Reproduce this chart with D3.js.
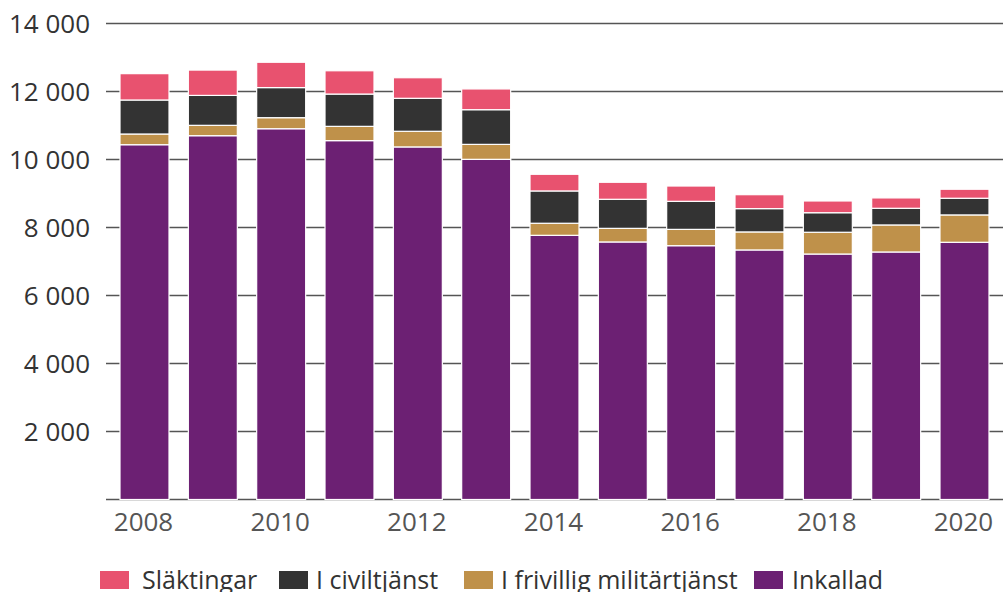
<!DOCTYPE html>
<html><head><meta charset="utf-8">
<script src="https://cdn.jsdelivr.net/npm/d3@7"></script>
<style>
html,body{margin:0;padding:0;background:#fff;}
svg{display:block;font-family:"Open Sans",sans-serif;}
</style></head><body>
<svg id="c" width="1003" height="592"></svg>
<script>
const years = [2008,2009,2010,2011,2012,2013,2014,2015,2016,2017,2018,2019,2020];
const inkallad  = [10435,10700,10905,10555,10370,10005,7770,7575,7465,7340,7220,7280,7565];
const frivillig = [315,305,325,420,460,440,355,400,480,530,640,795,805];
const civil     = [1000,880,885,950,970,1020,950,855,825,685,575,490,490];
const slakt     = [775,745,745,685,605,610,490,500,450,410,345,305,265];
const seriesNames = ["Inkallad","I frivillig militärtjänst","I civiltjänst","Släktingar"];
const legendOrder = ["Släktingar","I civiltjänst","I frivillig militärtjänst","Inkallad"];
const colors = {"Inkallad":"#6c2073","I frivillig militärtjänst":"#bf914a","I civiltjänst":"#333333","Släktingar":"#e8526f"};
const yTicks = [0,2000,4000,6000,8000,10000,12000,14000];
const xTickYears = [2008,2010,2012,2014,2016,2018,2020];

const rows = years.map((y,i)=>({year:y,"Inkallad":inkallad[i],"I frivillig militärtjänst":frivillig[i],"I civiltjänst":civil[i],"Släktingar":slakt[i]}));
const svg = d3.select("#c");
const x = d3.scaleBand().domain(years).range([106,1003]).paddingInner(0.283).paddingOuter(0.205);
const y = d3.scaleLinear().domain([0,14000]).range([499.5,23.5]);
const fmt = v => d3.format(",")(v).replace(/,/g,"\u00a0");

// grid
svg.append("g").selectAll("line").data(yTicks).join("line")
  .attr("x1",106).attr("x2",1003)
  .attr("y1",d=>y(d)).attr("y2",d=>y(d))
  .attr("stroke","#555").attr("stroke-width",1.4);
svg.append("g").selectAll("text").data(yTicks.filter(d=>d>0)).join("text")
  .attr("x",90).attr("y",d=>y(d)).attr("dy","0.35em")
  .attr("text-anchor","end").attr("font-size",26).attr("fill","#333")
  .text(fmt);

const stack = d3.stack().keys(seriesNames)(rows);
svg.append("g").selectAll("g").data(stack).join("g")
  .attr("fill",d=>colors[d.key])
  .selectAll("rect").data(d=>d).join("rect")
  .attr("x",d=>x(d.data.year)).attr("width",x.bandwidth())
  .attr("y",d=>y(d[1])).attr("height",d=>y(d[0])-y(d[1]))
  .attr("stroke","#fff").attr("stroke-width",1.2);

svg.append("g").selectAll("text").data(xTickYears).join("text")
  .attr("x",d=>x(d)+x.bandwidth()/2 - 1).attr("y",522).attr("dy","0.35em")
  .attr("text-anchor","middle").attr("font-size",26).attr("fill","#555")
  .text(d=>d);

// legend (layout positions)
const legendSwatchX = [100,279,464,754];
const legendTextX = [142,316,501,792];
const lg = svg.append("g");
legendOrder.forEach((k,i)=>{
  lg.append("rect").attr("x",legendSwatchX[i]).attr("y",571).attr("width",29).attr("height",18).attr("fill",colors[k]);
  lg.append("text").attr("x",legendTextX[i]).attr("y",589).attr("font-size",25).attr("fill","#333").text(k);
});
</script></body></html>
